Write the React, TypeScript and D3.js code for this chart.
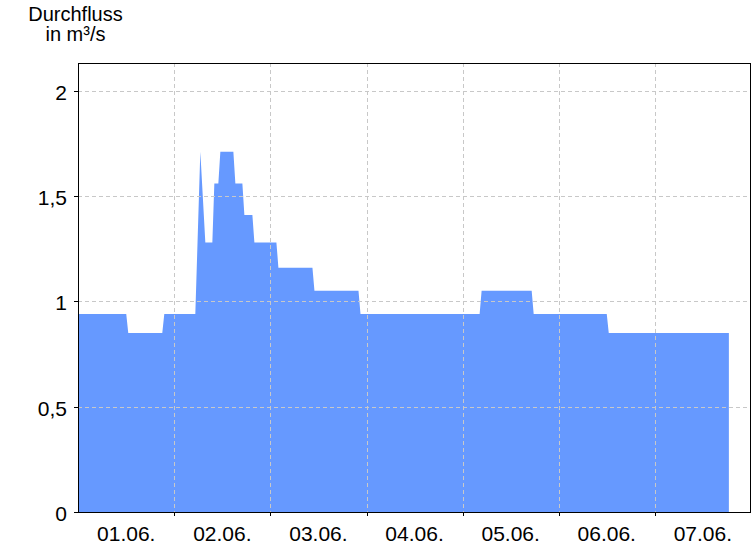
import React from "react";
import * as d3 from "d3";

// hours since 01.06. 00:00
const times = [0, 12.0, 12.5, 21.0, 21.5, 29.25, 30.5, 31.75, 33.5, 34.0, 35.0, 35.5, 38.75, 39.25, 41.0, 41.5, 43.5, 44.0, 49.5, 50.0, 58.5, 59.0, 70.0, 70.5, 100.25, 100.75, 113.25, 113.75, 132.0, 132.5, 162.5];
const flows = [0.94, 0.94, 0.85, 0.85, 0.94, 0.94, 1.71, 1.28, 1.28, 1.56, 1.56, 1.71, 1.71, 1.56, 1.56, 1.41, 1.41, 1.28, 1.28, 1.16, 1.16, 1.05, 1.05, 0.94, 0.94, 1.05, 1.05, 0.94, 0.94, 0.85, 0.85];

const dayLabels = ["01.06.", "02.06.", "03.06.", "04.06.", "05.06.", "06.06.", "07.06."];
const yTicks = [0, 0.5, 1, 1.5, 2];
const yTickLabels = ["0", "0,5", "1", "1,5", "2"];
const titleLines = ["Durchfluss", "in m³/s"];

const W = 756;
const H = 546;
const L = 78;
const R = 751;
const T = 63;
const B = 512;

export default function App() {
  const x = d3.scaleLinear().domain([0, 168]).range([78.2, 750.9]);
  const y = d3.scaleLinear().domain([0, 2.132]).range([B, T]);
  const data = times.map((t, i) => ({ t, v: flows[i] }));
  const area = d3
    .area<{ t: number; v: number }>()
    .x((d) => x(d.t))
    .y0(y(0))
    .y1((d) => y(d.v));
  const dayBounds = d3.range(1, 7).map((d) => d * 24);
  const font = "'Liberation Sans', Arial, sans-serif";
  return (
    <svg
      width={W}
      height={H}
      style={{ position: "absolute", left: 0, top: 0, display: "block", background: "#fff" }}
      fontFamily={font}
    >
      <path d={area(data) || ""} fill="#6699ff" />
      {yTicks.slice(1).map((v) => (
        <line key={"gy" + v} x1={L} x2={R} y1={Math.round(y(v)) + 0.5} y2={Math.round(y(v)) + 0.5} stroke="#c8c8c8" strokeDasharray="4,3" />
      ))}
      {dayBounds.map((h) => (
        <line key={"gx" + h} x1={Math.round(x(h)) + 0.5} x2={Math.round(x(h)) + 0.5} y1={T} y2={B} stroke="#c8c8c8" strokeDasharray="4,3" />
      ))}
      <rect x={L + 0.5} y={T + 0.5} width={R - L - 1} height={B - T} fill="none" stroke="#000" strokeWidth={1} />
      {yTicks.map((v, i) => (
        <g key={"yt" + v}>
          <line x1={L - 4} x2={L} y1={Math.round(y(v)) + 0.5} y2={Math.round(y(v)) + 0.5} stroke="#000" />
          <text x={67} y={y(v) + 9} textAnchor="end" fontSize={21} fill="#000">
            {yTickLabels[i]}
          </text>
        </g>
      ))}
      {dayBounds.map((h) => (
        <line key={"xt" + h} x1={Math.round(x(h)) + 0.5} x2={Math.round(x(h)) + 0.5} y1={B} y2={B + 4} stroke="#000" />
      ))}
      {dayLabels.map((lab, i) => (
        <text key={lab} x={x(i * 24 + 12)} y={541} textAnchor="middle" fontSize={21} fill="#000">
          {lab}
        </text>
      ))}
      {titleLines.map((s, i) => (
        <text key={s} x={75.5} y={21 + i * 20} textAnchor="middle" fontSize={20} fill="#000">
          {s}
        </text>
      ))}
    </svg>
  );
}
